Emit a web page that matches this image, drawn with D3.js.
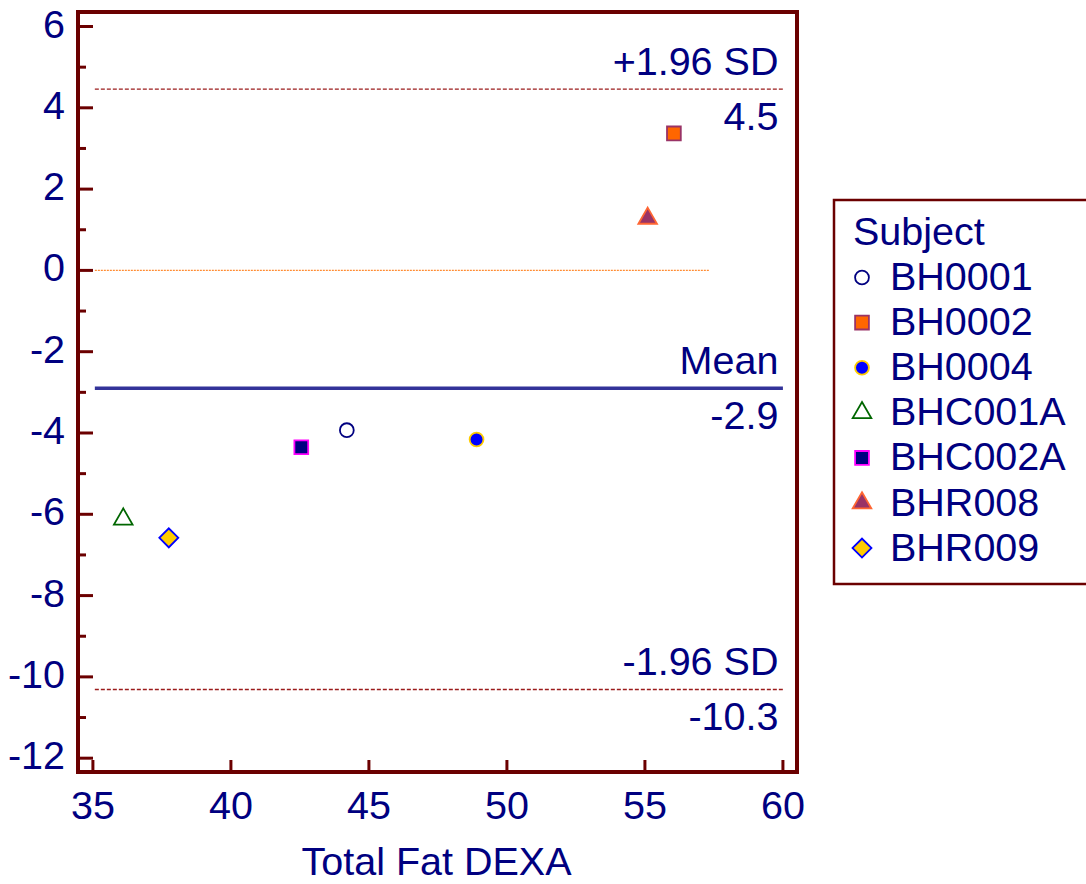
<!DOCTYPE html>
<html>
<head>
<meta charset="utf-8">
<script src="https://cdn.jsdelivr.net/npm/d3@7"></script>
<style>
  body { margin: 0; background: #fff; }
  svg { display: block; font-family: Arial, "Liberation Sans", sans-serif; }
</style>
</head>
<body>
<div class="container"></div>
<script>
/* Data */
const subjects = ['BH0001', 'BH0002', 'BH0004', 'BHC001A', 'BHC002A', 'BHR008', 'BHR009'];
const meanVals = [44.2, 56.05, 48.9, 36.1, 42.55, 55.1, 37.75];
const diffVals = [-3.93, 3.37, -4.16, -6.12, -4.35, 1.28, -6.58];
const shapes = ['circle', 'square', 'circle', 'triangle', 'square', 'triangle', 'diamond'];
const fills = ['#ffffff', '#ff6600', '#0000ff', '#ffffff', '#000080', '#993366', '#ffcc00'];
const strokes = ['#000080', '#993366', '#ffcc00', '#006600', '#ff00ff', '#ff6633', '#0000ff'];

const xTicks = [35, 40, 45, 50, 55, 60];
const yTicks = [-12, -10, -8, -6, -4, -2, 0, 2, 4, 6];
const yMinor = [-11, -9, -7, -5, -3, -1, 1, 3, 5];

const meanDiff = -2.9;
const upperSD = 4.46;
const lowerSD = -10.31;
const upperLabel = '4.5';
const meanLabel = '-2.9';
const lowerLabel = '-10.3';
const zeroLineEnd = 57.35;

/* Layout */
const width = 1086;
const height = 884;
const frame = { left: 78, right: 797, top: 12, bottom: 772 };
const textColor = '#000080';
const frameColor = '#6b0000';
const fontSize = 39.5;

const x = d3.scaleLinear().domain([34.46, 60.51]).range([frame.left, frame.right]);
const y = d3.scaleLinear().domain([-12.34, 6.357]).range([frame.bottom, frame.top]);

const svg = d3.select('.container')
    .append('svg')
    .attr('width', width)
    .attr('height', height);

/* Reference lines */
const lineStart = 35.07;
const lineEnd = 60.0;

svg.append('line')
    .attr('x1', x(lineStart)).attr('x2', x(zeroLineEnd))
    .attr('y1', y(0)).attr('y2', y(0))
    .attr('stroke', '#ff8c33').attr('stroke-width', 1.4)
    .attr('stroke-dasharray', '2,1');

[upperSD, lowerSD].forEach(v => {
    svg.append('line')
        .attr('x1', x(lineStart)).attr('x2', x(lineEnd))
        .attr('y1', y(v)).attr('y2', y(v))
        .attr('stroke', '#9b1c1c').attr('stroke-width', 1.4)
        .attr('stroke-dasharray', '4,2');
});

svg.append('line')
    .attr('x1', x(lineStart)).attr('x2', x(lineEnd))
    .attr('y1', y(meanDiff)).attr('y2', y(meanDiff))
    .attr('stroke', '#333399').attr('stroke-width', 3.5);

// labels above and below each line
const lineLabels = [
    { v: upperSD, above: '+1.96 SD', below: upperLabel },
    { v: meanDiff, above: 'Mean', below: meanLabel },
    { v: lowerSD, above: '-1.96 SD', below: lowerLabel }
];
const labelRight = x(lineEnd) - 4.5;
lineLabels.forEach(d => {
    svg.append('text')
        .attr('x', labelRight).attr('y', y(d.v) - 14)
        .attr('text-anchor', 'end')
        .attr('font-size', fontSize).attr('fill', textColor)
        .text(d.above);
    svg.append('text')
        .attr('x', labelRight).attr('y', y(d.v) + 41)
        .attr('text-anchor', 'end')
        .attr('font-size', fontSize).attr('fill', textColor)
        .text(d.below);
});

/* Frame and ticks */
svg.append('rect')
    .attr('x', frame.left).attr('y', frame.top)
    .attr('width', frame.right - frame.left)
    .attr('height', frame.bottom - frame.top)
    .attr('fill', 'none')
    .attr('stroke', frameColor).attr('stroke-width', 4);

svg.selectAll('.ytick')
    .data(yTicks)
    .enter()
    .append('line')
    .attr('class', 'ytick')
    .attr('x1', frame.left).attr('x2', frame.left + 15)
    .attr('y1', d => y(d)).attr('y2', d => y(d))
    .attr('stroke', frameColor).attr('stroke-width', 3);

svg.selectAll('.yminor')
    .data(yMinor)
    .enter()
    .append('line')
    .attr('class', 'yminor')
    .attr('x1', frame.left).attr('x2', frame.left + 8)
    .attr('y1', d => y(d)).attr('y2', d => y(d))
    .attr('stroke', frameColor).attr('stroke-width', 3);

svg.selectAll('.ylabel')
    .data(yTicks)
    .enter()
    .append('text')
    .attr('class', 'ylabel')
    .attr('x', frame.left - 13)
    .attr('y', d => y(d) + 11)
    .attr('text-anchor', 'end')
    .attr('font-size', fontSize).attr('fill', textColor)
    .text(d => d);

svg.selectAll('.xtick')
    .data(xTicks)
    .enter()
    .append('line')
    .attr('class', 'xtick')
    .attr('x1', d => x(d)).attr('x2', d => x(d))
    .attr('y1', frame.bottom).attr('y2', frame.bottom - 12)
    .attr('stroke', frameColor).attr('stroke-width', 3);

svg.selectAll('.xlabel')
    .data(xTicks)
    .enter()
    .append('text')
    .attr('class', 'xlabel')
    .attr('x', d => x(d))
    .attr('y', 819)
    .attr('text-anchor', 'middle')
    .attr('font-size', fontSize).attr('fill', textColor)
    .text(d => d);

svg.append('text')
    .attr('x', x(47.45)).attr('y', 875)
    .attr('text-anchor', 'middle')
    .attr('font-size', fontSize).attr('fill', textColor)
    .text('Total Fat DEXA');

/* Markers */
function symbolPath(shape) {
    if (shape === 'circle') return d3.symbol(d3.symbolCircle, 150)();
    if (shape === 'square') return d3.symbol(d3.symbolSquare, 190)();
    if (shape === 'triangle') return d3.symbol(d3.symbolTriangle, 150)();
    return d3.symbol(d3.symbolSquare, 180)();
}
function symbolRotate(shape) {
    return shape === 'diamond' ? ' rotate(45)' : '';
}

const points = subjects.map((s, i) => ({
    name: s, mx: meanVals[i], dy: diffVals[i],
    shape: shapes[i], fill: fills[i], stroke: strokes[i]
}));

svg.selectAll('.point')
    .data(points)
    .enter()
    .append('path')
    .attr('class', 'point')
    .attr('transform', d => `translate(${x(d.mx)},${y(d.dy)})${symbolRotate(d.shape)}`)
    .attr('d', d => symbolPath(d.shape))
    .attr('fill', d => d.fill)
    .attr('stroke', d => d.stroke)
    .attr('stroke-width', 1.8);

/* Legend */
const legend = svg.append('g');
legend.append('rect')
    .attr('x', 834).attr('y', 200)
    .attr('width', 270).attr('height', 384)
    .attr('fill', '#fff')
    .attr('stroke', frameColor).attr('stroke-width', 2.5);

legend.append('text')
    .attr('x', 853).attr('y', 245)
    .attr('font-size', fontSize).attr('fill', textColor)
    .text('Subject');

const rowY = i => 290 + i * 45.1;

legend.selectAll('.lsym')
    .data(points)
    .enter()
    .append('path')
    .attr('class', 'lsym')
    .attr('transform', (d, i) => `translate(862,${rowY(i) - 12.5})${symbolRotate(d.shape)}`)
    .attr('d', d => symbolPath(d.shape))
    .attr('fill', d => d.fill)
    .attr('stroke', d => d.stroke)
    .attr('stroke-width', 1.8);

legend.selectAll('.ltext')
    .data(points)
    .enter()
    .append('text')
    .attr('class', 'ltext')
    .attr('x', 890)
    .attr('y', (d, i) => rowY(i))
    .attr('font-size', fontSize).attr('fill', textColor)
    .text(d => d.name);
</script>
</body>
</html>
